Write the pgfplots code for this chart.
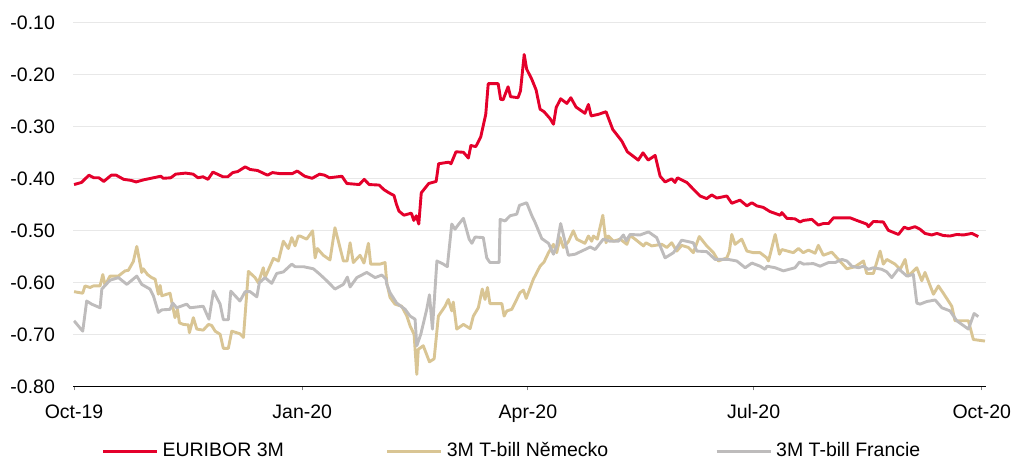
\documentclass[border=0pt]{standalone}
\usepackage{fontspec}
\setmainfont{Liberation Sans}
\usepackage{pgfplots}
\pgfplotsset{compat=1.18}

\definecolor{euribor}{RGB}{228,0,43}
\definecolor{bund}{RGB}{217,197,148}
\definecolor{oat}{RGB}{190,188,188}
\definecolor{gridc}{RGB}{232,232,232}

% x = days since 1 Oct 2019
\begin{document}
\begin{tikzpicture}
\useasboundingbox (0,0) rectangle (506.5pt,230.5pt);
\begin{axis}[
  at={(36.65pt,37.35pt)}, anchor=south west,
  scale only axis, width=456.35pt, height=182pt,
  xmin=-0.3, xmax=367.7, ymin=-0.80, ymax=-0.10,
  axis x line*=bottom, axis y line*=left,
  x axis line style={black, line width=0.6pt},
  y axis line style={draw=none},
  xtick={0,92,183,274,366},
  xticklabels={Oct-19,Jan-20,Apr-20,Jul-20,Oct-20},
  ytick={-0.8,-0.7,-0.6,-0.5,-0.4,-0.3,-0.2,-0.1},
  xtick style={gray, line width=0.5pt},
  ytick style={draw=none},
  xtick align=outside, major tick length=2pt,
  ymajorgrids, grid style={gridc, line width=0.75pt},
  /pgf/number format/assume math mode=true,
  yticklabel style={/pgf/number format/fixed, /pgf/number format/fixed zerofill,
    /pgf/number format/precision=2, anchor=east, inner sep=0pt, xshift=-9pt},
  xticklabel style={anchor=north, inner sep=0pt, yshift=-7pt},
  tick label style={font=\fontsize{9.75}{11.7}\selectfont},
  legend style={at={(0.0311,-0.178)}, anchor=west, legend columns=3,
    draw=none, fill=none, inner sep=0pt, outer sep=0pt,
    font=\fontsize{9.75}{11.7}\selectfont,
    /tikz/column 2/.style={column sep=49pt},
    /tikz/column 4/.style={column sep=51.5pt}},
  legend image code/.code={\draw[#1] (0pt,0pt) -- (27pt,0pt);},
  every axis plot/.append style={line width=1.45pt, line join=round},
]
\addplot[euribor] coordinates {
(0,-0.412) (3,-0.408) (6,-0.394) (8,-0.399) (10,-0.399) (12,-0.406) (15,-0.394) (17,-0.394)
(20,-0.402) (23,-0.404) (25,-0.407) (28,-0.403) (32,-0.399) (35,-0.396) (36,-0.400) (39,-0.399)
(41,-0.392) (45,-0.390) (48,-0.392) (50,-0.399) (52,-0.397) (54,-0.402) (56,-0.388) (60,-0.397)
(62,-0.397) (64,-0.389) (66,-0.387) (69,-0.378) (71,-0.383) (74,-0.385) (78,-0.394) (80,-0.389)
(83,-0.391) (88,-0.391) (90,-0.386) (93,-0.396) (96,-0.400) (99,-0.392) (101,-0.394) (103,-0.399)
(108,-0.396) (110,-0.410) (115,-0.412) (117,-0.402) (119,-0.412) (123,-0.413) (125,-0.422) (127,-0.428)
(129,-0.433) (130,-0.450) (131,-0.463) (133,-0.471) (136,-0.467) (137,-0.481) (138,-0.472) (139,-0.488)
(140,-0.428) (143,-0.410) (146,-0.406) (147,-0.372) (151,-0.369) (152,-0.372) (154,-0.349) (157,-0.350)
(159,-0.361) (160,-0.337) (162,-0.339) (164,-0.320) (166,-0.277) (167,-0.218) (171,-0.218) (172,-0.248)
(173,-0.249) (175,-0.224) (176,-0.243) (179,-0.245) (180,-0.232) (181.5,-0.162) (182.5,-0.190) (184.6,-0.210)
(186.3,-0.230) (187.9,-0.267) (189.5,-0.272) (191.9,-0.285) (193.3,-0.296) (194.4,-0.264) (196.2,-0.247) (198.7,-0.256)
(200.3,-0.245) (202.4,-0.263) (206,-0.275) (207.4,-0.258) (208.5,-0.280) (211.4,-0.277) (214.5,-0.272) (217.2,-0.306)
(220.8,-0.328) (223.1,-0.349) (227.5,-0.365) (229.4,-0.351) (231.5,-0.365) (234.3,-0.356) (236.3,-0.396) (238.3,-0.407)
(241,-0.401) (242.3,-0.408) (243.3,-0.399) (247.1,-0.408) (249.7,-0.421) (252.4,-0.434) (255.1,-0.439) (257.1,-0.432)
(259.2,-0.438) (263.2,-0.434) (265.2,-0.448) (268.5,-0.442) (271.3,-0.453) (273.3,-0.447) (275.3,-0.453) (277.9,-0.456)
(280.6,-0.464) (284.7,-0.471) (285.4,-0.466) (287.4,-0.477) (290.7,-0.478) (292.7,-0.484) (294.1,-0.481) (297.5,-0.479)
(300.1,-0.490) (302.1,-0.487) (304.2,-0.487) (306.2,-0.476) (312.9,-0.476) (315.6,-0.481) (319.6,-0.488) (320.3,-0.493)
(322.3,-0.483) (326.3,-0.484) (328.3,-0.500) (332.4,-0.508) (334.7,-0.494) (336.4,-0.497) (339.1,-0.493) (341.1,-0.498)
(343.1,-0.506) (345.8,-0.509) (347.9,-0.506) (350.5,-0.510) (353.2,-0.511) (355.9,-0.508) (358.6,-0.509) (362,-0.506)
(364.6,-0.512)};
\addlegendentry{EURIBOR 3M}
\addplot[bund] coordinates {
(0,-0.618) (3.5,-0.621) (4.4,-0.607) (6.5,-0.610) (7.8,-0.607) (10.5,-0.607) (11.6,-0.585) (12.5,-0.606)
(14.5,-0.588) (17.9,-0.588) (19.2,-0.583) (20.6,-0.578) (21.9,-0.577) (23.9,-0.560) (25.3,-0.531) (27.3,-0.581)
(27.9,-0.574) (29.6,-0.585) (31.3,-0.591) (32.7,-0.594) (34,-0.623) (34.7,-0.606) (35.4,-0.626) (38.7,-0.621)
(40.7,-0.668) (41.7,-0.652) (42.5,-0.678) (44.1,-0.681) (46.1,-0.682) (46.5,-0.697) (48.1,-0.668) (49.5,-0.690)
(52.1,-0.692) (54.2,-0.681) (55.5,-0.683) (56.9,-0.694) (58.9,-0.700) (60.2,-0.727) (62.2,-0.727) (63.6,-0.694)
(66.9,-0.699) (68.3,-0.706) (70.3,-0.579) (73,-0.591) (74.3,-0.601) (76.3,-0.572) (77,-0.591) (80.4,-0.554)
(82.4,-0.559) (84.4,-0.521) (86.4,-0.535) (87.8,-0.514) (89.1,-0.530) (90.4,-0.511) (91.1,-0.511) (93.8,-0.517)
(96.2,-0.501) (97.2,-0.553) (98.1,-0.535) (100.5,-0.548) (103.2,-0.557) (105.2,-0.495) (108.6,-0.559) (110.1,-0.559)
(111.3,-0.524) (112.6,-0.562) (115.3,-0.548) (116.9,-0.563) (118.7,-0.525) (119.6,-0.565) (123.4,-0.565) (125.4,-0.562)
(126.1,-0.601) (127.4,-0.629) (129.4,-0.642) (132.1,-0.646) (134.2,-0.665) (135.5,-0.684) (137.1,-0.700) (138.2,-0.777)
(138.8,-0.729) (140.8,-0.722) (143.3,-0.753) (145.2,-0.747) (146.9,-0.665) (149.6,-0.646) (150.9,-0.633) (152.3,-0.655)
(152.9,-0.638) (154.3,-0.690) (157,-0.681) (159.7,-0.689) (161,-0.665) (163,-0.649) (164.6,-0.613) (165.7,-0.633)
(166.7,-0.610) (167.7,-0.641) (172.5,-0.641) (173.4,-0.665) (174.5,-0.655) (176.5,-0.652) (179.8,-0.620) (181.2,-0.615)
(182.3,-0.631) (185.2,-0.594) (187.9,-0.569) (189.5,-0.561) (191.3,-0.543) (193.3,-0.527) (194.6,-0.543) (196,-0.514)
(197.3,-0.533) (199.3,-0.522) (201.3,-0.501) (202.7,-0.517) (206,-0.525) (207.4,-0.511) (208.7,-0.521) (209.4,-0.511)
(211,-0.517) (213.2,-0.471) (214.5,-0.524) (215.4,-0.511) (217.5,-0.521) (220.2,-0.517) (222.9,-0.527) (224.2,-0.510)
(226.2,-0.517) (229.6,-0.530) (230.6,-0.524) (232.9,-0.530) (237,-0.527) (239,-0.533) (241,-0.524) (243,-0.540)
(245,-0.529) (247.7,-0.533) (249.7,-0.543) (252.1,-0.512) (255.1,-0.530) (257.8,-0.543) (259.8,-0.559) (263.2,-0.553)
(264.2,-0.541) (265.2,-0.508) (266.5,-0.527) (269.2,-0.517) (271.3,-0.540) (273.9,-0.543) (276.6,-0.543) (279.3,-0.553)
(280,-0.559) (282.7,-0.508) (284.4,-0.546) (285.4,-0.537) (290,-0.543) (292.1,-0.535) (294,-0.543) (296.1,-0.538)
(298.8,-0.544) (300.1,-0.529) (302.1,-0.548) (305.5,-0.542) (308.2,-0.556) (311.6,-0.574) (314.9,-0.570) (318.3,-0.559)
(319.6,-0.583) (322.3,-0.583) (325,-0.540) (326.3,-0.565) (327.7,-0.556) (331,-0.565) (333.1,-0.575) (335.1,-0.556)
(336.4,-0.588) (339.8,-0.572) (341.8,-0.597) (343.1,-0.581) (346.5,-0.623) (348.5,-0.607) (350.5,-0.621) (353.9,-0.646)
(355.2,-0.674) (360.6,-0.674) (362.6,-0.710) (367.3,-0.713)};
\addlegendentry{3M T-bill Německo}
\addplot[oat] coordinates {
(0,-0.674) (3.5,-0.694) (5.1,-0.636) (7.1,-0.642) (10.5,-0.649) (11.2,-0.613) (14.5,-0.596) (17.9,-0.591)
(21.3,-0.604) (25.3,-0.588) (27.3,-0.604) (30.6,-0.613) (32,-0.626) (34,-0.658) (35.4,-0.653) (38.7,-0.652)
(39.8,-0.640) (41.4,-0.649) (45.4,-0.642) (46.8,-0.649) (52.1,-0.646) (54.4,-0.671) (56.2,-0.617) (58.9,-0.642)
(60.2,-0.672) (62.2,-0.672) (63.2,-0.617) (66.9,-0.636) (69,-0.618) (71,-0.618) (73.7,-0.628) (74.7,-0.601)
(77,-0.591) (79.7,-0.602) (81.7,-0.583) (84.4,-0.580) (87.8,-0.565) (89.1,-0.570) (92.5,-0.570) (96.5,-0.574)
(99.2,-0.585) (101.9,-0.597) (105.2,-0.613) (108.6,-0.604) (110.2,-0.590) (111.3,-0.609) (114,-0.591) (118,-0.581)
(121.4,-0.591) (124.1,-0.586) (125.8,-0.594) (126.1,-0.604) (127.4,-0.620) (130.1,-0.640) (133.5,-0.652) (135.5,-0.665)
(137.5,-0.671) (138.2,-0.722) (139.8,-0.700) (142.2,-0.652) (143.3,-0.624) (144.5,-0.690) (146.3,-0.559) (148.9,-0.565)
(150.5,-0.570) (152.3,-0.488) (153.6,-0.498) (154.8,-0.490) (157,-0.477) (159.3,-0.517) (160.4,-0.525) (161.7,-0.513)
(165,-0.514) (166.4,-0.553) (167.7,-0.562) (171.4,-0.562) (171.8,-0.479) (173.8,-0.482) (175.8,-0.472) (178.5,-0.469)
(179.6,-0.452) (182.5,-0.447) (184.6,-0.472) (185.9,-0.485) (188.6,-0.516) (191.3,-0.525) (193.3,-0.546) (194.6,-0.530)
(196.2,-0.487) (199.3,-0.548) (202,-0.546) (206,-0.537) (208.1,-0.532) (210.1,-0.537) (213.4,-0.517) (216.1,-0.521)
(219.5,-0.521) (221.5,-0.509) (222.6,-0.520) (224.2,-0.508) (228.2,-0.509) (231.6,-0.503) (234.9,-0.514) (238.3,-0.553)
(241.7,-0.543) (245,-0.519) (249.7,-0.524) (251.1,-0.540) (255.1,-0.541) (258.5,-0.556) (263.8,-0.556) (267.2,-0.559)
(270.6,-0.572) (273.3,-0.563) (276.6,-0.569) (278.6,-0.575) (279.4,-0.569) (282.7,-0.572) (286,-0.578) (290.7,-0.572)
(292.5,-0.561) (294.1,-0.565) (298.1,-0.564) (300.8,-0.569) (304.2,-0.562) (306.9,-0.562) (309.6,-0.556) (311.6,-0.559)
(313.6,-0.569) (316.3,-0.572) (318.3,-0.569) (320.3,-0.575) (322.3,-0.572) (325.7,-0.575) (327.7,-0.580) (329.7,-0.591)
(332.4,-0.574) (335.8,-0.588) (338.4,-0.585) (339.8,-0.640) (341.1,-0.642) (343.8,-0.637) (347.2,-0.634) (349.9,-0.649)
(353.2,-0.655) (355.9,-0.674) (360.6,-0.690) (362.9,-0.660) (364.6,-0.666)};
\addlegendentry{3M T-bill Francie}
\end{axis}
\end{tikzpicture}
\end{document}
